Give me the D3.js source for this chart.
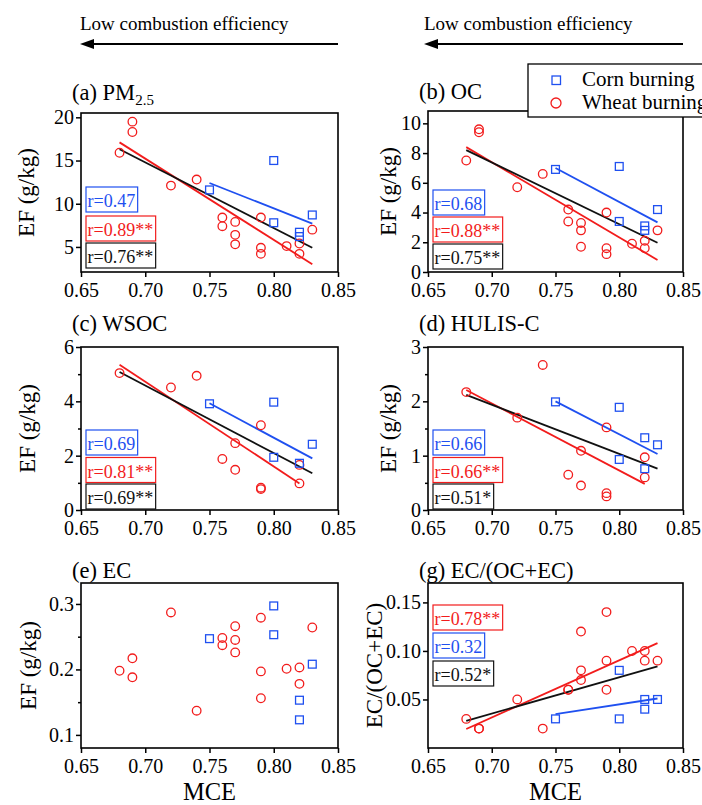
<!DOCTYPE html>
<html lang="en">
<head>
<meta charset="utf-8">
<title>EF vs MCE</title>
<script src="https://cdnjs.cloudflare.com/ajax/libs/d3/7.8.5/d3.min.js"></script>
<style>
  body { margin: 0; background: #fff; }
  svg { display: block; font-family: "Liberation Serif", "Times New Roman", serif; }
</style>
</head>
<body>
<script>
// ---- data ----
// MCE of the samples
var wheatMCE = [0.68, 0.69, 0.69, 0.72, 0.74, 0.76, 0.76, 0.77, 0.77, 0.77, 0.79, 0.79, 0.79, 0.81, 0.82, 0.82, 0.83];
var cornMCE = [0.75, 0.80, 0.80, 0.82, 0.82, 0.83];
// WSOC / HULIS-C were measured on fewer samples
var wheatMCEsub = [0.68, 0.72, 0.74, 0.76, 0.77, 0.77, 0.79, 0.79, 0.79, 0.82, 0.82];
var cornMCEwsoc = [0.75, 0.80, 0.80, 0.82, 0.83];

var pm25Wheat = [15.9, 19.5, 18.3, 12.1, 12.8, 8.4, 7.4, 7.9, 6.4, 5.3, 8.4, 4.9, 4.2, 5.1, 5.4, 4.2, 7.0];
var pm25Corn = [11.6, 15.0, 7.8, 6.7, 6.2, 8.7];
var ocWheat = [7.5, 9.6, 9.4, 5.7, 6.6, 4.2, 3.4, 3.3, 2.8, 1.7, 4.0, 1.6, 1.2, 1.9, 2.1, 1.6, 2.8];
var ocCorn = [6.9, 7.1, 3.4, 3.1, 2.8, 4.2];
var wsocWheat = [5.04, 4.51, 4.94, 1.88, 2.46, 1.48, 3.12, 0.82, 0.77, 1.66, 0.98];
var wsocCorn = [3.91, 3.97, 1.94, 1.72, 2.42];
var hulisWheat = [2.17, 1.70, 2.67, 0.65, 1.09, 0.45, 1.52, 0.31, 0.25, 0.97, 0.60];
var hulisCorn = [1.99, 1.89, 0.93, 1.33, 0.76, 1.20];
var ecWheat = [0.198, 0.217, 0.188, 0.287, 0.137, 0.248, 0.237, 0.266, 0.245, 0.226, 0.279, 0.197, 0.156, 0.201, 0.203, 0.178, 0.264];
var ecCorn = [0.247, 0.297, 0.253, 0.153, 0.123, 0.208];
var ratioWheat = [0.03, 0.02, 0.02, 0.05, 0.02, 0.06, 0.06, 0.12, 0.08, 0.07, 0.14, 0.09, 0.06, 0.10, 0.10, 0.09, 0.09];
var ratioCorn = [0.03, 0.08, 0.03, 0.05, 0.04, 0.05];

// regression line end points [MCE, value]
var pm25Fit = { corn: [[0.75, 12.4], [0.83, 7.7]], wheat: [[0.68, 17.1], [0.83, 3.0]], all: [[0.68, 16.3], [0.83, 4.9]] };
var ocFit = { corn: [[0.75, 7.0], [0.83, 3.34]], wheat: [[0.68, 8.4], [0.83, 0.81]], all: [[0.68, 8.2], [0.83, 1.97]] };
var wsocFit = { corn: [[0.75, 3.93], [0.83, 1.9]], wheat: [[0.68, 5.35], [0.82, 0.98]], all: [[0.68, 5.08], [0.83, 1.35]] };
var hulisFit = { corn: [[0.75, 2.0], [0.83, 1.03]], wheat: [[0.68, 2.21], [0.82, 0.48]], all: [[0.68, 2.12], [0.83, 0.76]] };
var ratioFit = { corn: [[0.75, 0.035], [0.83, 0.051]], wheat: [[0.68, 0.0196], [0.83, 0.108]], all: [[0.68, 0.028], [0.83, 0.084]] };

// correlation labels, top to bottom
var pm25R = [["corn", "r=0.47"], ["wheat", "r=0.89**"], ["all", "r=0.76**"]];
var ocR = [["corn", "r=0.68"], ["wheat", "r=0.88**"], ["all", "r=0.75**"]];
var wsocR = [["corn", "r=0.69"], ["wheat", "r=0.81**"], ["all", "r=0.69**"]];
var hulisR = [["corn", "r=0.66"], ["wheat", "r=0.66**"], ["all", "r=0.51*"]];
var ratioR = [["wheat", "r=0.78**"], ["corn", "r=0.32"], ["all", "r=0.52*"]];

var xTicks = [0.65, 0.70, 0.75, 0.80, 0.85];

var colors = { corn: "#1f50f0", wheat: "#f21c1c", all: "#111" };

// ---- layout ----
var width = 702, height = 805;
var svg = d3.select("body").append("svg")
    .attr("width", width)
    .attr("height", height);

var L = 81, R = 338, L2 = 428, R2 = 683;

var panels = [
  { title: "(a) PM", sub: "2.5", titleY: 100, left: L, right: R, top: 113, bottom: 272, yDomain: [2.1, 20.5],
    yTicks: [5, 10, 15, 20], yMinor: [], yFmt: d3.format("d"), yTitle: "EF (g/kg)", yTitleX: 34,
    wx: wheatMCE, wy: pm25Wheat, cx: cornMCE, cy: pm25Corn, fit: pm25Fit, r: pm25R, rTop: [187, 216, 243] },
  { title: "(b) OC", titleY: 98.5, left: L2, right: R2, top: 111, bottom: 272, yDomain: [0, 10.83],
    yTicks: [0, 2, 4, 6, 8, 10], yMinor: [], yFmt: d3.format("d"), yTitle: "EF (g/kg)", yTitleX: 396,
    wx: wheatMCE, wy: ocWheat, cx: cornMCE, cy: ocCorn, fit: ocFit, r: ocR, rTop: [190, 217, 244] },
  { title: "(c) WSOC", titleY: 331, left: L, right: R, top: 347, bottom: 510, yDomain: [0, 6],
    yTicks: [0, 2, 4, 6], yMinor: [1, 3, 5], yFmt: d3.format("d"), yTitle: "EF (g/kg)", yTitleX: 35,
    wx: wheatMCEsub, wy: wsocWheat, cx: cornMCEwsoc, cy: wsocCorn, fit: wsocFit, r: wsocR, rTop: [430, 457.5, 484] },
  { title: "(d) HULIS-C", titleY: 331, left: L2, right: R2, top: 347, bottom: 510, yDomain: [0, 3],
    yTicks: [0, 1, 2, 3], yMinor: [0.5, 1.5, 2.5], yFmt: d3.format("d"), yTitle: "EF (g/kg)", yTitleX: 396,
    wx: wheatMCEsub, wy: hulisWheat, cx: cornMCE, cy: hulisCorn, fit: hulisFit, r: hulisR, rTop: [430, 457.5, 484] },
  { title: "(e) EC", titleY: 578, left: L, right: R, top: 583, bottom: 748, yDomain: [0.08, 0.332],
    yTicks: [0.1, 0.2, 0.3], yMinor: [0.15, 0.25], yFmt: d3.format(".1f"), yTitle: "EF (g/kg)", yTitleX: 36,
    wx: wheatMCE, wy: ecWheat, cx: cornMCE, cy: ecCorn, fit: null, r: [], rTop: [], xTitle: "MCE" },
  { title: "(g) EC/(OC+EC)", titleY: 578, left: L2, right: R2, top: 583, bottom: 748, yDomain: [0, 0.17],
    yTicks: [0.05, 0.10, 0.15], yMinor: [], yFmt: d3.format(".2f"), yTitle: "EC/(OC+EC)", yTitleX: 382,
    wx: wheatMCE, wy: ratioWheat, cx: cornMCE, cy: ratioCorn, fit: ratioFit, r: ratioR, rTop: [605, 633, 661], xTitle: "MCE" }
];

// header arrows
[[80, 338], [424, 683]].forEach(function(a) {
  svg.append("text")
    .attr("x", a[0]).attr("y", 30)
    .attr("font-size", 19)
    .text("Low combustion efficiency");
  svg.append("line")
    .attr("x1", a[0] + 10).attr("x2", a[1])
    .attr("y1", 44).attr("y2", 44)
    .attr("stroke", "#000").attr("stroke-width", 2);
  svg.append("path")
    .attr("d", "M" + a[0] + ",44 L" + (a[0] + 14) + ",39 L" + (a[0] + 14) + ",49 Z")
    .attr("fill", "#000");
});

function styleAxis(g) {
  g.attr("font-family", null).attr("font-size", 20);
  g.select(".domain").remove();
  g.selectAll("line").attr("stroke", "#000").attr("stroke-width", 1.5);
  g.selectAll("text").attr("fill", "#000");
}

panels.forEach(function(p) {
  var x = d3.scaleLinear().domain([0.65, 0.85]).range([p.left, p.right]);
  var y = d3.scaleLinear().domain(p.yDomain).range([p.bottom, p.top]);
  var g = svg.append("g");

  // title
  var t = g.append("text")
    .attr("x", p.left - 9).attr("y", p.titleY)
    .attr("font-size", 22.5)
    .text(p.title);
  if (p.sub) {
    t.append("tspan").attr("font-size", 15).attr("dy", 5).text(p.sub);
  }

  // axes
  g.append("g")
    .attr("transform", "translate(0," + p.bottom + ")")
    .call(d3.axisBottom(x).tickValues(xTicks).tickFormat(d3.format(".2f")).tickSize(5).tickPadding(6))
    .call(styleAxis);
  g.append("g")
    .attr("transform", "translate(" + p.left + ",0)")
    .call(d3.axisLeft(y).tickValues(p.yTicks).tickFormat(p.yFmt).tickSize(5).tickPadding(2))
    .call(styleAxis);
  if (p.yMinor.length) {
    g.append("g")
      .attr("transform", "translate(" + p.left + ",0)")
      .call(d3.axisLeft(y).tickValues(p.yMinor).tickFormat("").tickSize(3))
      .call(styleAxis);
  }

  // frame
  g.append("rect")
    .attr("x", p.left).attr("y", p.top)
    .attr("width", p.right - p.left).attr("height", p.bottom - p.top)
    .attr("fill", "none").attr("stroke", "#000").attr("stroke-width", 1.6);

  // axis titles
  g.append("text")
    .attr("transform", "translate(" + p.yTitleX + "," + ((p.top + p.bottom) / 2) + ") rotate(-90)")
    .attr("text-anchor", "middle")
    .attr("font-size", 23)
    .text(p.yTitle);
  if (p.xTitle) {
    g.append("text")
      .attr("x", (p.left + p.right) / 2).attr("y", 800)
      .attr("text-anchor", "middle")
      .attr("font-size", 24.5)
      .text(p.xTitle);
  }

  // fit lines
  if (p.fit) {
    var line = d3.line().x(function(d) { return x(d[0]); }).y(function(d) { return y(d[1]); });
    ["corn", "wheat", "all"].forEach(function(k) {
      g.append("path")
        .attr("d", line(p.fit[k]))
        .attr("fill", "none")
        .attr("stroke", colors[k])
        .attr("stroke-width", 1.8);
    });
  }

  // wheat (circles)
  g.selectAll(".wheat")
    .data(d3.zip(p.wx, p.wy))
    .enter().append("circle")
      .attr("class", "wheat")
      .attr("cx", function(d) { return x(d[0]); })
      .attr("cy", function(d) { return y(d[1]); })
      .attr("r", 4.3)
      .attr("fill", "none")
      .attr("stroke", colors.wheat)
      .attr("stroke-width", 1.3);

  // corn (squares)
  var s = 7.8;
  g.selectAll(".corn")
    .data(d3.zip(p.cx, p.cy))
    .enter().append("rect")
      .attr("class", "corn")
      .attr("x", function(d) { return x(d[0]) - s / 2; })
      .attr("y", function(d) { return y(d[1]) - s / 2; })
      .attr("width", s).attr("height", s)
      .attr("fill", "none")
      .attr("stroke", colors.corn)
      .attr("stroke-width", 1.3);

  // r boxes
  p.r.forEach(function(r, i) {
    var bx = p.left + 5, by = p.rTop[i];
    var box = g.append("rect")
      .attr("x", bx).attr("y", by).attr("height", 25)
      .attr("fill", "#fff")
      .attr("stroke", colors[r[0]])
      .attr("stroke-width", 1.2);
    var txt = g.append("text")
      .attr("x", bx + 1.5).attr("y", by + 20)
      .attr("font-size", 18)
      .attr("fill", colors[r[0]])
      .text(r[1]);
    box.attr("width", txt.node().getComputedTextLength() + 4);
  });
});

// legend (overlaps panel b frame)
var lg = svg.append("g");
lg.append("rect")
  .attr("x", 528).attr("y", 64).attr("width", 200).attr("height", 53)
  .attr("fill", "#fff").attr("stroke", "#000").attr("stroke-width", 1.3);
lg.append("rect")
  .attr("x", 552).attr("y", 76).attr("width", 8.5).attr("height", 8.5)
  .attr("fill", "none").attr("stroke", colors.corn).attr("stroke-width", 1.3);
lg.append("circle")
  .attr("cx", 556).attr("cy", 103).attr("r", 5)
  .attr("fill", "none").attr("stroke", colors.wheat).attr("stroke-width", 1.3);
lg.append("text").attr("x", 582).attr("y", 86).attr("font-size", 21).text("Corn burning");
lg.append("text").attr("x", 582).attr("y", 109).attr("font-size", 21).text("Wheat burning");
</script>
</body>
</html>
